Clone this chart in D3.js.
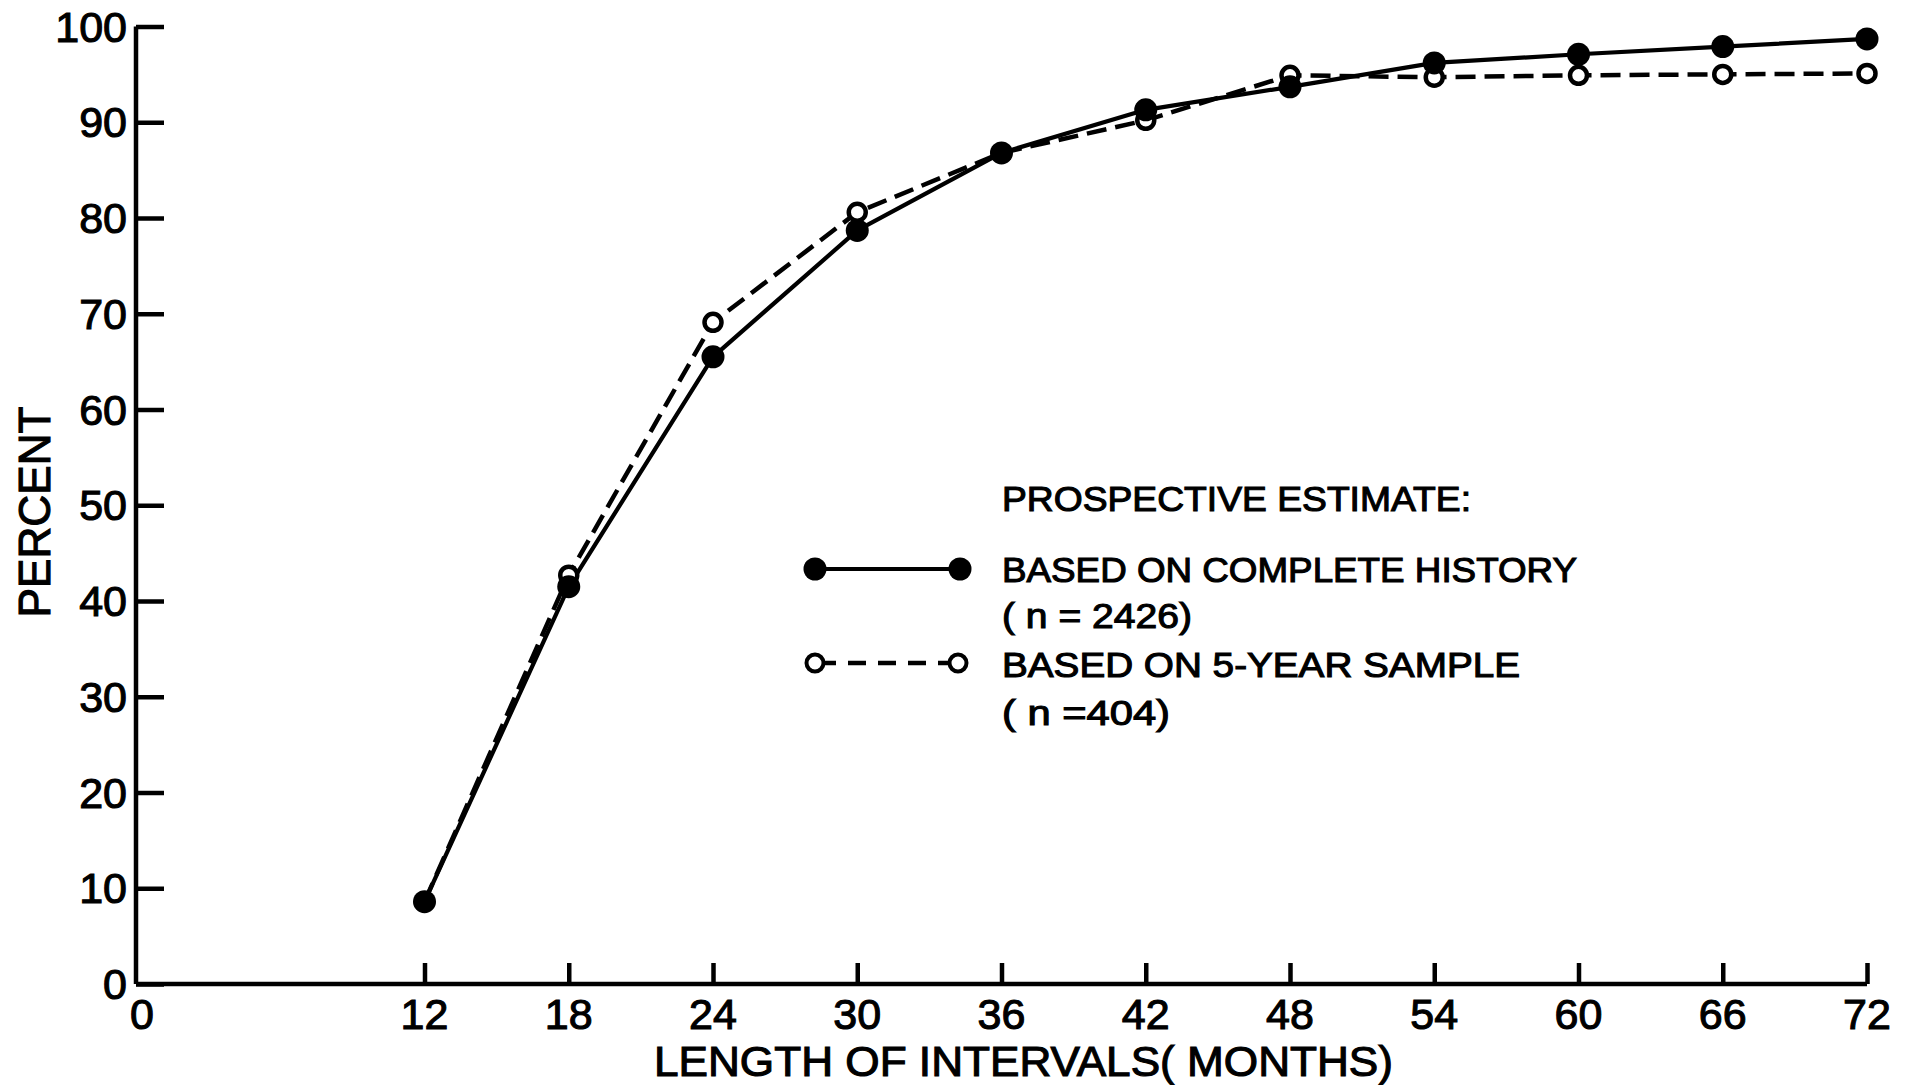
<!DOCTYPE html>
<html>
<head>
<meta charset="utf-8">
<script src="https://cdn.jsdelivr.net/npm/d3@7"></script>
<style>
  html, body { margin: 0; padding: 0; background: #fff; }
  svg { display: block; }
  text { font-family: "Liberation Sans", Arial, sans-serif; fill: #000; stroke: #000; stroke-width: 1.1px; }
</style>
</head>
<body>
<svg id="chart" width="1911" height="1085"></svg>
<script>
// ---- data ----
const months = [12, 18, 24, 30, 36, 42, 48, 54, 60, 66, 72];
const completeHistory = [8.6, 41.5, 65.5, 78.7, 86.8, 91.3, 93.7, 96.2, 97.1, 97.9, 98.7];
const fiveYearSample = [8.6, 42.7, 69.1, 80.6, 86.8, 90.2, 94.9, 94.7, 94.9, 95.0, 95.1];
const xTicks = [0, 12, 18, 24, 30, 36, 42, 48, 54, 60, 66, 72];
const yTicks = [0, 10, 20, 30, 40, 50, 60, 70, 80, 90, 100];
const legendTitle = "PROSPECTIVE ESTIMATE:";
const legendLabels = [
  ["BASED ON COMPLETE HISTORY", "( n = 2426)"],
  ["BASED ON 5-YEAR SAMPLE", "( n =404)"]
];
const xTitle = "LENGTH OF INTERVALS( MONTHS)";
const yTitle = "PERCENT";

// ---- layout ----
const svg = d3.select("#chart");
const x = d3.scaleLinear().domain([0, 72]).range([136, 1867]);
const y = d3.scaleLinear().domain([0, 100]).range([984, 26.5]);

// axes
const yAxis = svg.append("g").attr("transform", `translate(${x(0)},0)`)
  .call(d3.axisRight(y).tickValues(yTicks).tickSize(28).tickFormat(""));
const xAxis = svg.append("g").attr("transform", `translate(0,${y(0)})`)
  .call(d3.axisTop(x).tickValues(xTicks.filter(d => d > 0)).tickSize(21).tickFormat(""));
[yAxis, xAxis].forEach(g => {
  g.select(".domain").attr("stroke", "#000").attr("stroke-width", 4.5);
  g.selectAll(".tick line").attr("stroke", "#000").attr("stroke-width", 4.5);
});
yAxis.select(".domain").attr("d", `M0,${y(100)}V${y(0)}`);
xAxis.select(".domain").attr("d", `M${x(0)},0H${x(72)}`);

// tick labels
svg.append("g").selectAll("text").data(yTicks).join("text")
  .attr("x", 127).attr("y", d => y(d) + 15)
  .attr("text-anchor", "end").attr("font-size", 43)
  .text(d => d);
svg.append("g").selectAll("text").data(xTicks).join("text")
  .attr("x", d => x(d) + (d === 0 ? 6 : 0)).attr("y", 1029)
  .attr("text-anchor", "middle").attr("font-size", 43)
  .text(d => d);

// axis titles
svg.append("text").attr("x", 654).attr("y", 1076)
  .attr("font-size", 42).attr("textLength", 739).attr("lengthAdjust", "spacingAndGlyphs")
  .text(xTitle);
svg.append("text").attr("transform", "translate(50,512) rotate(-90)")
  .attr("text-anchor", "middle").attr("font-size", 45)
  .attr("textLength", 211).attr("lengthAdjust", "spacingAndGlyphs")
  .text(yTitle);

// lines
const line = d3.line().x(d => x(d[0])).y(d => y(d[1]));
const solidData = months.map((m, i) => [m, completeHistory[i]]);
const dashData = months.map((m, i) => [m, fiveYearSample[i]]);
svg.append("path").datum(solidData).attr("d", line)
  .attr("fill", "none").attr("stroke", "#000").attr("stroke-width", 4.2)
  .attr("stroke-linejoin", "round");
svg.append("path").datum(dashData).attr("d", line)
  .attr("fill", "none").attr("stroke", "#000").attr("stroke-width", 4.5)
  .attr("stroke-dasharray", "20,9");

// markers
svg.append("g").selectAll("circle").data(dashData).join("circle")
  .attr("cx", d => x(d[0])).attr("cy", d => y(d[1])).attr("r", 8.5)
  .attr("fill", "#fff").attr("stroke", "#000").attr("stroke-width", 4.5);
svg.append("g").selectAll("circle").data(solidData).join("circle")
  .attr("cx", d => x(d[0])).attr("cy", d => y(d[1])).attr("r", 11.5)
  .attr("fill", "#000");

// legend
const lg = svg.append("g");
lg.append("text").attr("x", 1002).attr("y", 511).attr("font-size", 35)
  .attr("textLength", 469).attr("lengthAdjust", "spacingAndGlyphs").text(legendTitle);
lg.append("line").attr("x1", 815).attr("x2", 960).attr("y1", 569).attr("y2", 569)
  .attr("stroke", "#000").attr("stroke-width", 4);
[815, 960].forEach(cx => lg.append("circle").attr("cx", cx).attr("cy", 569).attr("r", 11.5).attr("fill", "#000"));
lg.append("text").attr("x", 1002).attr("y", 582).attr("font-size", 35)
  .attr("textLength", 575).attr("lengthAdjust", "spacingAndGlyphs").text(legendLabels[0][0]);
lg.append("text").attr("x", 1002).attr("y", 628).attr("font-size", 35)
  .attr("textLength", 190).attr("lengthAdjust", "spacingAndGlyphs").text(legendLabels[0][1]);
lg.append("line").attr("x1", 815).attr("x2", 958).attr("y1", 663).attr("y2", 663)
  .attr("stroke", "#000").attr("stroke-width", 4.5).attr("stroke-dasharray", "18,12")
  .attr("stroke-dashoffset", -3);
[815, 958].forEach(cx => lg.append("circle").attr("cx", cx).attr("cy", 663).attr("r", 8.5)
  .attr("fill", "#fff").attr("stroke", "#000").attr("stroke-width", 4));
lg.append("text").attr("x", 1002).attr("y", 677).attr("font-size", 35)
  .attr("textLength", 518).attr("lengthAdjust", "spacingAndGlyphs").text(legendLabels[1][0]);
lg.append("text").attr("x", 1002).attr("y", 725).attr("font-size", 35)
  .attr("textLength", 168).attr("lengthAdjust", "spacingAndGlyphs").text(legendLabels[1][1]);
</script>
</body>
</html>
